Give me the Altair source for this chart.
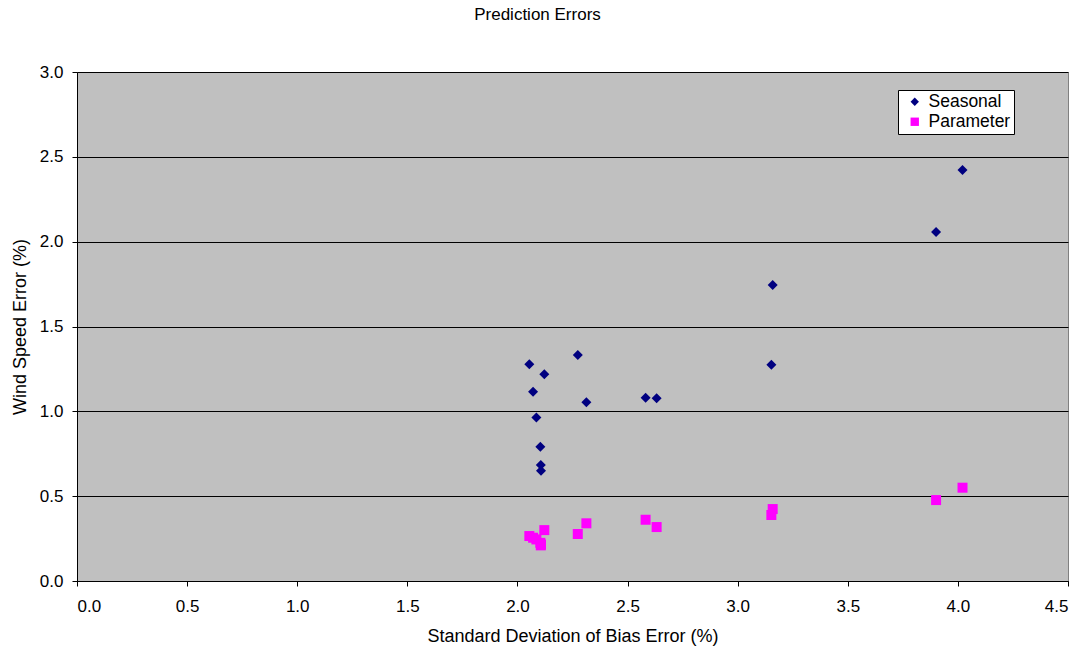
import altair as alt
import pandas as pd

bias_sd = [2.054, 2.274, 2.122, 2.071, 2.313, 2.086, 2.104, 2.106, 2.107,
           2.582, 2.632, 3.159, 3.153, 3.901, 4.021]
seasonal = [1.277, 1.332, 1.219, 1.115, 1.054, 0.964, 0.791, 0.684, 0.650,
            1.080, 1.077, 1.745, 1.275, 2.057, 2.422]
parameter = [0.265, 0.277, 0.300, 0.255, 0.340, 0.245, 0.225, 0.210, 0.215,
             0.361, 0.318, 0.424, 0.389, 0.477, 0.550]
series_names = ["Seasonal", "Parameter"]

rows = []
for x, s, p in zip(bias_sd, seasonal, parameter):
    rows.append({"x": x, "y": s, "series": "Seasonal"})
    rows.append({"x": x, "y": p, "series": "Parameter"})
df = pd.DataFrame(rows)

font = "Liberation Sans"

chart = alt.Chart(df).mark_point(filled=True, opacity=1, size=100).encode(
    x=alt.X("x:Q", title="Standard Deviation of Bias Error (%)",
            scale=alt.Scale(domain=[0, 4.5], nice=False),
            axis=alt.Axis(values=[0, 0.5, 1, 1.5, 2, 2.5, 3, 3.5, 4, 4.5], format=".1f",
                          grid=False, tickSize=5, labelPadding=12, titlePadding=13,
                          titleFontSize=18)),
    y=alt.Y("y:Q", title="Wind Speed Error (%)",
            scale=alt.Scale(domain=[0, 3], nice=False),
            axis=alt.Axis(values=[0, 0.5, 1, 1.5, 2, 2.5, 3], format=".1f",
                          grid=True, tickSize=5, labelPadding=9, titlePadding=10,
                          titleFontSize=18)),
    color=alt.Color("series:N", scale=alt.Scale(domain=series_names, range=["#000080", "#FF00FF"]),
                    legend=alt.Legend(title=None, orient="none", legendX=821, legendY=18,
                                      fillColor="white", strokeColor="black", padding=3,
                                      labelFontSize=17.5, labelFont=font, labelColor="black",
                                      symbolSize=70, rowPadding=1, labelOffset=5,
                                      symbolOffset=5)),
    shape=alt.Shape("series:N", scale=alt.Scale(domain=series_names, range=["diamond", "square"]),
                    legend=None),
).properties(
    width=991, height=509,
    title=alt.TitleParams("Prediction Errors", fontSize=17, fontWeight="normal", font=font,
                          color="black", offset=39, dx=-35),
    autosize=alt.AutoSizeParams(type="none"),
    padding={"left": 77, "top": 72, "right": 20, "bottom": 71},
).configure_view(
    fill="#C0C0C0", stroke="#808080", strokeWidth=1
).configure_axis(
    labelFont=font, titleFont=font, labelFontSize=17, titleFontSize=17,
    labelColor="black", titleColor="black", titleFontWeight="normal",
    domainColor="black", tickColor="black", gridColor="black", gridWidth=1, gridOpacity=1
)

chart.save("out.html", embed_options={"renderer": "svg", "actions": False})
